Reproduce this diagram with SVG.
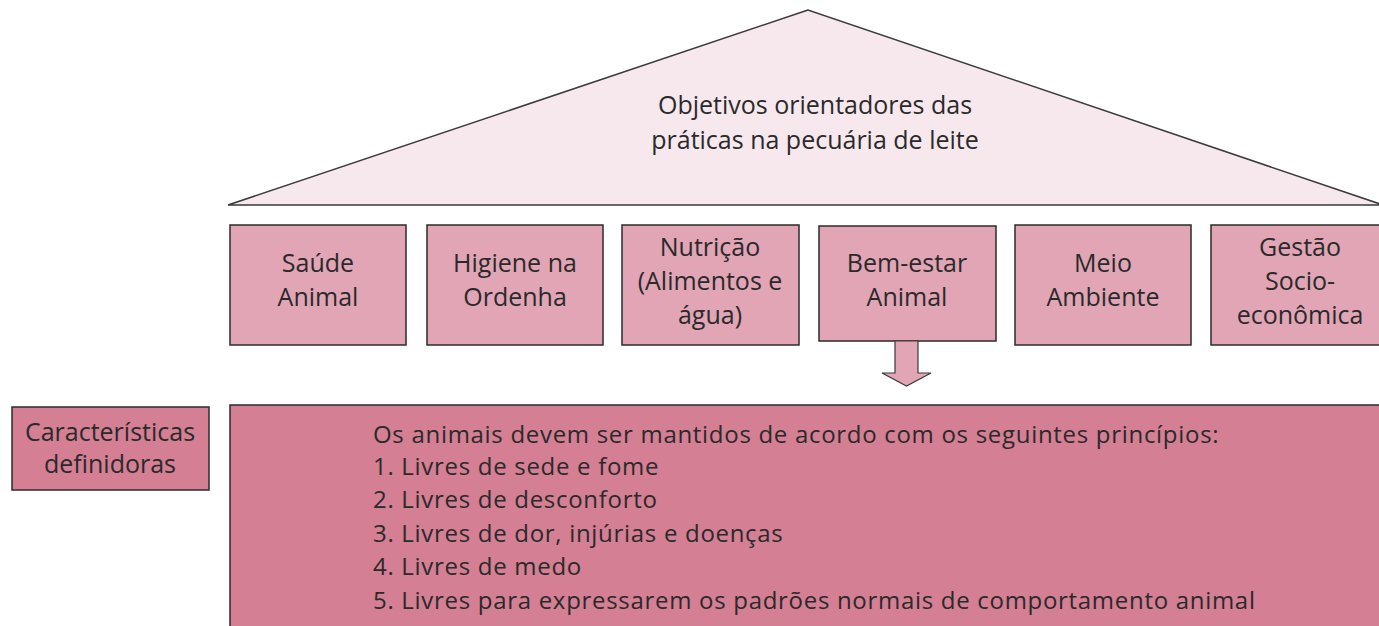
<svg xmlns="http://www.w3.org/2000/svg" width="1379" height="626" viewBox="0 0 1379 626">
<style>
text{font-family:"Open Sans","Liberation Sans",sans-serif;fill:#2a2a2a;}
.c{text-anchor:middle;font-size:25px;}
.box{fill:#e1a5b5;stroke:#2b2b2b;stroke-width:1.5;}
.dark{fill:#d47f94;stroke:#2b2b2b;stroke-width:1.5;}
.m{font-size:24px;letter-spacing:0.7px;}
</style>
<rect width="1379" height="626" fill="#fff"/>
<g id="roof">
<polygon points="808,10 228,205 1383,205" fill="#f7e8ee" stroke="#3a3a3a" stroke-width="1.5"/>
<text class="c" x="815" y="114">Objetivos orientadores das</text>
<text class="c" x="815" y="149">práticas na pecuária de leite</text>
</g>
<g id="saude">
<rect class="box" x="230" y="225" width="176" height="120"/>
<text class="c" x="318" y="272">Saúde</text>
<text class="c" x="318" y="306">Animal</text>
</g>
<g id="higiene">
<rect class="box" x="427" y="225" width="176" height="120"/>
<text class="c" x="515" y="272">Higiene na</text>
<text class="c" x="515" y="306">Ordenha</text>
</g>
<g id="nutricao">
<rect class="box" x="622" y="225" width="177" height="120"/>
<text class="c" x="710" y="256">Nutrição</text>
<text class="c" x="710" y="290">(Alimentos e</text>
<text class="c" x="710" y="324">água)</text>
</g>
<g id="bemestar">
<rect class="box" x="819" y="226" width="177" height="115"/>
<text class="c" x="907" y="272">Bem-estar</text>
<text class="c" x="907" y="306">Animal</text>
</g>
<g id="meio">
<rect class="box" x="1015" y="225" width="176" height="120"/>
<text class="c" x="1103" y="272">Meio</text>
<text class="c" x="1103" y="306">Ambiente</text>
</g>
<g id="gestao">
<rect class="box" x="1211" y="225" width="180" height="120"/>
<text class="c" x="1300" y="256">Gestão</text>
<text class="c" x="1300" y="290">Socio-</text>
<text class="c" x="1300" y="324">econômica</text>
</g>
<g id="connectors">
<polygon points="895,341 918,341 918,373 931,373 906.5,386 882,373 895,373" fill="#e1a5b5" stroke="#3a3a3a" stroke-width="1.2"/>
</g>
<g id="caracteristicas">
<rect class="dark" x="12" y="407" width="197" height="83"/>
<text class="c" x="110" y="441">Características</text>
<text class="c" x="110" y="473">definidoras</text>
</g>
<g id="principios">
<rect class="dark" x="230" y="405" width="1160" height="240"/>
<text class="m" x="373" y="443">Os animais devem ser mantidos de acordo com os seguintes princípios:</text>
<text class="m" x="373" y="475">1. Livres de sede e fome</text>
<text class="m" x="373" y="508">2. Livres de desconforto</text>
<text class="m" x="373" y="542">3. Livres de dor, injúrias e doenças</text>
<text class="m" x="373" y="575">4. Livres de medo</text>
<text class="m" x="373" y="609">5. Livres para expressarem os padrões normais de comportamento animal</text>
</g>
</svg>
